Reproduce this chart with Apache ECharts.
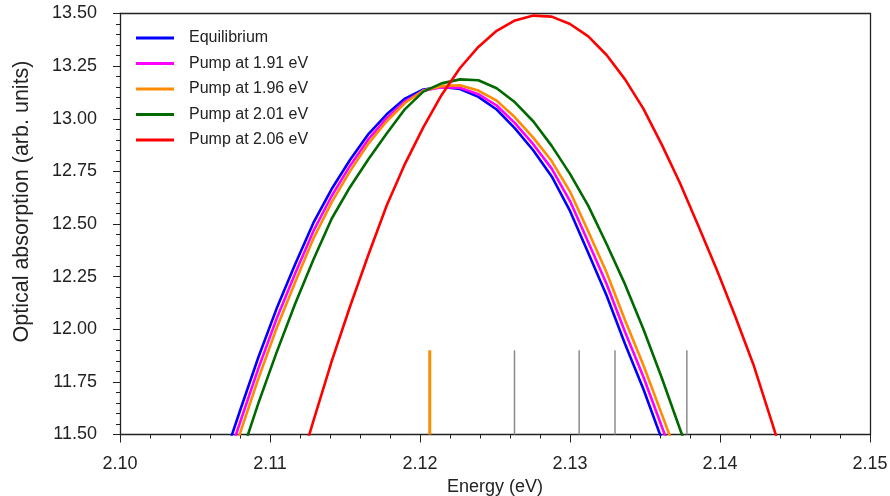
<!DOCTYPE html>
<html>
<head>
<meta charset="utf-8">
<script src="https://cdn.jsdelivr.net/npm/echarts@6/dist/echarts.min.js"></script>
<style>html,body{margin:0;padding:0;background:#fff}#c{width:890px;height:496px}</style>
</head>
<body>
<div id="c"></div>
<script>
// Energy grid (eV)
var energy = [2.10678, 2.10800, 2.10922, 2.11044, 2.11167, 2.11289, 2.11411, 2.11533, 2.11656, 2.11778,
              2.11900, 2.12022, 2.12144, 2.12267, 2.12389, 2.12511, 2.12633, 2.12756, 2.12878, 2.13000,
              2.13122, 2.13244, 2.13367, 2.13489, 2.13611, 2.13733, 2.13856, 2.13978, 2.14100, 2.14222,
              2.14344, 2.14467];
var seriesNames = ['Equilibrium', 'Pump at 1.91 eV', 'Pump at 1.96 eV', 'Pump at 2.01 eV', 'Pump at 2.06 eV'];
var equilibrium = [11.353, 11.613, 11.866, 12.098, 12.308, 12.505, 12.666, 12.804, 12.927, 13.021,
                   13.096, 13.139, 13.151, 13.141, 13.104, 13.044, 12.954, 12.849, 12.726, 12.562,
                   12.362, 12.160, 11.930, 11.716, 11.479, 11.248, null, null, null, null, null, null];
var pump191 = [11.296, 11.557, 11.813, 12.050, 12.264, 12.466, 12.633, 12.776, 12.903, 13.003,
               13.083, 13.133, 13.150, 13.147, 13.117, 13.063, 12.979, 12.878, 12.763, 12.609,
               12.413, 12.215, 11.987, 11.774, 11.539, 11.307, null, null, null, null, null, null];
var pump196 = [11.244, 11.505, 11.764, 12.005, 12.222, 12.430, 12.603, 12.750, 12.882, 12.988,
               13.075, 13.134, 13.155, 13.159, 13.134, 13.086, 13.007, 12.909, 12.799, 12.654,
               12.464, 12.270, 12.043, 11.830, 11.598, 11.365, null, null, null, null, null, null];
var pump201 = [11.125, 11.385, 11.648, 11.890, 12.120, 12.330, 12.525, 12.675, 12.808, 12.930,
               13.046, 13.129, 13.168, 13.187, 13.183, 13.145, 13.078, 12.987, 12.871, 12.738,
               12.586, 12.405, 12.213, 12.001, 11.771, 11.526, 11.284, null, null, null, null, null];
var pump206 = [null, null, null, null, 11.277, 11.563, 11.847, 12.107, 12.354, 12.588,
               12.786, 12.959, 13.113, 13.241, 13.341, 13.418, 13.467, 13.490, 13.485, 13.450,
               13.391, 13.303, 13.187, 13.048, 12.878, 12.695, 12.491, 12.284, 12.064, 11.834,
               11.562, 11.284];
// Transition sticks
var stickEnergy = [2.12065, 2.12630, 2.13061, 2.13300, 2.13779];
var stickHeight = [11.9, 11.9, 11.9, 11.9, 11.9];
var stickBase = 11.5;
var xTicks = [2.10, 2.11, 2.12, 2.13, 2.14, 2.15];
var yTicks = [11.50, 11.75, 12.00, 12.25, 12.50, 12.75, 13.00, 13.25, 13.50];
var xTitle = 'Energy (eV)';
var yTitle = 'Optical absorption (arb. units)';

var colors = ['#0000ff', '#ff00ff', '#ff8c00', '#006a00', '#ff0000'];
var stickColors = ['#ff8c00', '#8c8c8c', '#8c8c8c', '#8c8c8c', '#8c8c8c'];
var stickWidths = [3, 1.5, 1.5, 1.5, 1.5];
var FONT = 'Liberation Sans, Arial, sans-serif';

function pairs(vals) {
  var out = [];
  for (var i = 0; i < energy.length; i++) if (vals[i] !== null) out.push([energy[i], vals[i]]);
  return out;
}
var allVals = [equilibrium, pump191, pump196, pump201, pump206];

var series = [];
for (var s = 0; s < stickEnergy.length; s++) {
  series.push({
    type: 'line', silent: true, symbol: 'none', z: 1,
    data: [[stickEnergy[s], stickBase], [stickEnergy[s], stickHeight[s]]],
    lineStyle: { color: stickColors[s], width: stickWidths[s] }
  });
}
for (var k = 0; k < seriesNames.length; k++) {
  series.push({
    name: seriesNames[k], type: 'line', symbol: 'none', z: 3 + k,
    data: pairs(allVals[k]), clip: true,
    lineStyle: { color: colors[k], width: 2.6 }, itemStyle: { color: colors[k] }
  });
}

var chart = echarts.init(document.getElementById('c'), null, { renderer: 'canvas' });
var axisCol = '#222';
chart.setOption({
  animation: false,
  backgroundColor: '#fff',
  grid: { left: 120, right: 20, top: 13.5, bottom: 61.5, containLabel: false, outerBoundsMode: 'none' },
  graphic: [{
    type: 'text', x: 22, y: 201.5, rotation: Math.PI / 2,
    style: { text: yTitle, fontFamily: FONT, fontSize: 21.5, fill: '#222',
      align: 'center', verticalAlign: 'middle' }
  }],
  legend: {
    data: seriesNames, orient: 'vertical', left: 131, top: 25,
    icon: 'rect', itemWidth: 38, itemHeight: 3, itemGap: 9.5,
    textStyle: { fontFamily: FONT, fontSize: 16, color: '#222', lineHeight: 16, padding: [0, 0, 0, 10] }
  },
  xAxis: [{
    type: 'value', min: xTicks[0], max: xTicks[xTicks.length - 1], interval: 0.01,
    name: xTitle, nameLocation: 'middle', nameGap: 39,
    nameTextStyle: { fontFamily: FONT, fontSize: 18, color: '#222' },
    axisLine: { show: true, onZero: false, lineStyle: { color: axisCol, width: 1.3 } },
    axisTick: { show: true, length: 8, lineStyle: { color: axisCol, width: 1 } },
    minorTick: { show: true, splitNumber: 5, length: 4, lineStyle: { color: axisCol, width: 1 } },
    splitLine: { show: false },
    axisLabel: { margin: 21, fontFamily: FONT, fontSize: 18, color: '#222',
      formatter: function (v) { return v.toFixed(2); } }
  }, {
    type: 'value', position: 'top', min: xTicks[0], max: xTicks[xTicks.length - 1],
    axisLine: { show: true, onZero: false, lineStyle: { color: axisCol, width: 1.3 } },
    axisTick: { show: false }, axisLabel: { show: false }, splitLine: { show: false }
  }],
  yAxis: [{
    type: 'value', min: yTicks[0], max: yTicks[yTicks.length - 1], interval: 0.25,
    axisLine: { show: true, onZero: false, lineStyle: { color: axisCol, width: 1.3 } },
    axisTick: { show: true, length: 7, lineStyle: { color: axisCol, width: 1 } },
    minorTick: { show: true, splitNumber: 5, length: 4, lineStyle: { color: axisCol, width: 1 } },
    splitLine: { show: false },
    axisLabel: { margin: 23, fontFamily: FONT, fontSize: 18, color: '#222',
      formatter: function (v) { return v.toFixed(2); } }
  }, {
    type: 'value', position: 'right', min: yTicks[0], max: yTicks[yTicks.length - 1],
    axisLine: { show: true, onZero: false, lineStyle: { color: axisCol, width: 1.3 } },
    axisTick: { show: false }, axisLabel: { show: false }, splitLine: { show: false }
  }],
  series: series
});
</script>
</body>
</html>
